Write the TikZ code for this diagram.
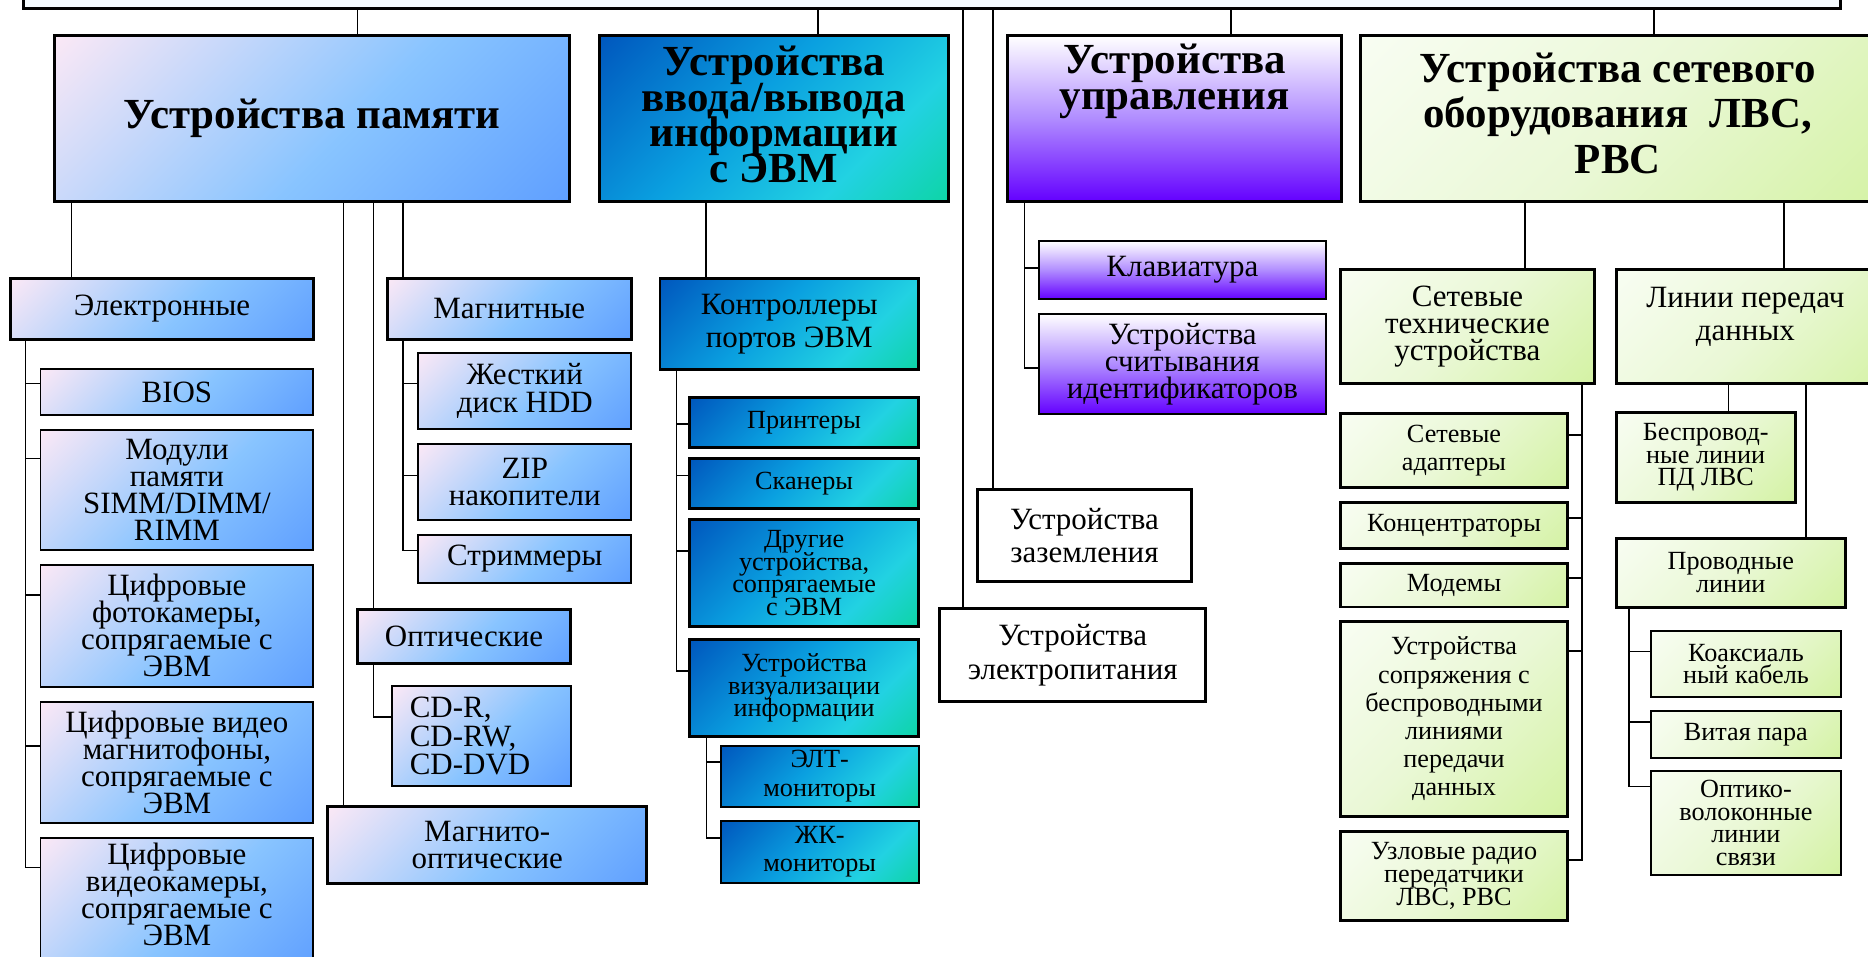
\documentclass[tikz,border=0pt]{standalone}
\usepackage{fontspec}
\setmainfont{Liberation Serif}
\setlength{\lineskiplimit}{-100pt}

\definecolor{rootfill}{HTML}{F4FAFD}
\definecolor{memA}{HTML}{FAE8F6}
\definecolor{memB}{HTML}{88C4FF}
\definecolor{memC}{HTML}{60A0FF}
\definecolor{ioA}{HTML}{0058BE}
\definecolor{ioB}{HTML}{0AA0E0}
\definecolor{ioC}{HTML}{22D2E2}
\definecolor{ioD}{HTML}{0ED4A8}
\definecolor{ctlA}{HTML}{FFFFFF}
\definecolor{ctlB}{HTML}{B08CFF}
\definecolor{ctlC}{HTML}{6400FF}
\definecolor{netA}{HTML}{F8FDF2}
\definecolor{netB}{HTML}{EAF8D6}
\definecolor{netC}{HTML}{D4F2A4}

\pgfdeclarehorizontalshading{memshade}{100bp}{color(0bp)=(memA); color(15bp)=(memA); color(55bp)=(memB); color(85bp)=(memC); color(100bp)=(memC)}
\pgfdeclarehorizontalshading{ioshade}{100bp}{color(0bp)=(ioA); color(15bp)=(ioA); color(45bp)=(ioB); color(68bp)=(ioC); color(85bp)=(ioD); color(100bp)=(ioD)}
\pgfdeclarehorizontalshading{netshade}{100bp}{color(0bp)=(netA); color(15bp)=(netA); color(50bp)=(netB); color(85bp)=(netC); color(100bp)=(netC)}

\newcommand{\ttl}{\fontsize{21.6pt}{18pt}\selectfont\bfseries}
\newcommand{\ttlnet}{\fontsize{21.6pt}{22.8pt}\selectfont\bfseries}

% box: style, name, x1, y1, x2, y2, text
\newcommand{\cell}[7]{\node[#1, minimum width={(#5-#3)*0.6pt}, minimum height={(#6-#4)*0.6pt}] (#2) at ({(#3+#5)/2},{(#4+#6)/2}) {#7};}

\tikzset{
  blk/.style={rectangle, draw=black, inner sep=0pt, align=center},
  heavy/.style={blk, line width=1.5pt},
  lite/.style={blk, line width=1pt},
  memshd/.style={shading=memshade, shading angle=-45},
  ioshd/.style={shading=ioshade, shading angle=-45},
  ctlshd/.style={top color=ctlA, bottom color=ctlC, middle color=ctlB},
  netshd/.style={shading=netshade, shading angle=-45},
  memhead/.style={heavy, memshd, font=\ttl},
  memsub/.style={heavy, memshd},
  memleaf/.style={lite, memshd},
  iohead/.style={heavy, ioshd},
  iosub/.style={heavy, ioshd},
  ioleaf/.style={lite, ioshd},
  ctlhead/.style={heavy, ctlshd},
  ctlleaf/.style={lite, ctlshd},
  nethead/.style={heavy, netshd},
  netsub/.style={heavy, netshd},
  netleaf/.style={lite, netshd},
  plainbox/.style={heavy, fill=white},
  rootbox/.style={heavy, fill=rootfill},
  headtxt/.style={font=\ttl, align=center},
  f26/.style={font=\fontsize{15.6pt}{13.6pt}\selectfont},
  f26w/.style={font=\fontsize{15.6pt}{14.4pt}\selectfont},
  f26x/.style={font=\fontsize{15.6pt}{17pt}\selectfont},
  f22/.style={font=\fontsize{13.2pt}{11.4pt}\selectfont},
  f22w/.style={font=\fontsize{13.2pt}{14.2pt}\selectfont},
  wire/.style={line width=0.8pt},
  wire2/.style={line width=1.1pt},
}

\begin{document}
\begin{tikzpicture}[x=0.6pt,y=-0.6pt]
\useasboundingbox (0,0) rectangle (1568,802.6);

% top row
\cell{rootbox}{root}{20}{-60}{1545}{7.5}{}
\cell{memhead}{mem}{46}{30}{478}{169}{Устройства памяти}
\cell{iohead}{io}{503}{30}{796}{169}{}
\node[headtxt] (iotxt) at (649.5,96) {Устройства\\ввода/вывода\\информации\\с ЭВМ};
\cell{ctlhead}{ctl}{846}{30}{1126}{169}{}
\node[headtxt] (ctltxt) at (986,68) {Устройства\\управления};
\cell{nethead}{net}{1142}{30}{1595}{169}{}
\node[headtxt, font=\ttlnet] (nettxt) at (1358,95) {Устройства сетевого\\оборудования~~ЛВС,\\РВС};

% memory
\cell{memsub,f26}{ele}{9}{233.5}{263}{285}{Электронные}
\cell{memleaf,f26}{bios}{34}{310}{263}{348}{BIOS}
\cell{memleaf,f26}{mods}{34}{361}{263}{462}{Модули\\памяти\\SIMM/DIMM/\\RIMM}
\cell{memleaf,f26}{photo}{34}{474}{263}{576.5}{Цифровые\\фотокамеры,\\сопрягаемые с\\ЭВМ}
\cell{memleaf,f26}{vrec}{34}{589}{263}{691}{Цифровые видео\\магнитофоны,\\сопрягаемые с\\ЭВМ}
\cell{memleaf}{vcam}{34}{703}{263}{812}{}
\node[f26, align=center] (vcamtxt) at (148.5,751) {Цифровые\\видеокамеры,\\сопрягаемые с\\ЭВМ};
\cell{memsub,f26}{magn}{325}{233.5}{530}{285}{Магнитные}
\cell{memleaf,f26w}{hdd}{351}{296.5}{530}{360}{Жесткий\\диск HDD}
\cell{memleaf,f26}{zip}{351}{373}{530}{436.5}{ZIP\\накопители}
\cell{memleaf,f26}{strm}{351}{449}{530}{489}{Стриммеры}
\cell{memsub,f26}{opt}{300}{512}{479}{557}{Оптические}
\cell{memleaf,f26w,align=left,text width=72pt}{cd}{329}{576}{479}{660}{CD-R,\\CD-RW,\\CD-DVD}
\cell{memsub,f26}{mo}{275}{677}{543}{742}{Магнито-\\оптические}

% input/output
\cell{iosub,f26x}{ctrl}{554}{234}{771}{310}{Контроллеры\\портов ЭВМ}
\cell{iosub,f22}{prn}{579}{334}{771}{376}{Принтеры}
\cell{iosub,f22}{scn}{579}{385}{771}{427}{Сканеры}
\cell{iosub,f22}{oth}{579}{436}{771}{526}{Другие\\устройства,\\сопрягаемые\\с ЭВМ}
\cell{iosub,f22}{vis}{579}{537}{771}{618}{Устройства\\визуализации\\информации}
\cell{ioleaf,f22w}{crt}{605}{626}{771}{677}{ЭЛТ-\\мониторы}
\cell{ioleaf,f22w}{lcd}{605}{689}{771}{741}{ЖК-\\мониторы}

% control
\cell{ctlleaf,f26}{keys}{872}{202.5}{1113}{251}{Клавиатура}
\cell{ctlleaf,f26}{rdr}{872}{263.6}{1113}{347.5}{Устройства\\считывания\\идентификаторов}
\cell{plainbox,f26x}{gnd}{820.5}{410.5}{1000}{488.5}{Устройства\\заземления}
\cell{plainbox,f26x}{pwr}{789}{511}{1012}{589}{Устройства\\электропитания}

% network
\cell{netsub,f26}{tech}{1125.5}{226.6}{1338}{322}{Сетевые\\технические\\устройства}
\cell{netsub}{lnk}{1357}{226.6}{1595}{322}{}
\node[f26x, align=center] (lnktxt) at (1465,266) {Линии передач\\данных};
\cell{netsub,f22w}{adp}{1125}{346.7}{1316}{409.6}{Сетевые\\адаптеры}
\cell{netsub,f22}{hub}{1125}{422}{1316}{460}{Концентраторы}
\cell{netsub,f22}{mdm}{1125}{472.6}{1316}{509.5}{Модемы}
\cell{netsub,f22w}{wif}{1125}{522}{1316}{685}{Устройства\\сопряжения с\\беспроводными\\линиями\\передачи\\данных}
\cell{netsub,f22}{rad}{1125}{697.6}{1316}{773}{Узловые радио\\передатчики\\ЛВС, РВС}
\cell{netsub,f22}{wls}{1356.5}{346}{1507}{422}{Беспровод-\\ные линии\\ПД ЛВС}
\cell{netsub,f22}{wrd}{1356.5}{451.6}{1549}{510}{Проводные\\линии}
\cell{netleaf,f22}{coax}{1386}{530}{1545}{585}{Коаксиаль\\ный кабель}
\cell{netleaf,f22}{twp}{1386}{597}{1545}{636}{Витая пара}
\cell{netleaf,f22}{fib}{1386}{647}{1545}{734.5}{Оптико-\\волоконные\\линии\\связи}

% connectors from the top box
\draw[wire] (root.south -| 300,0) -- (mem.north -| 300,0);
\draw[wire] (root.south -| 686.5,0) -- (io.north -| 686.5,0);
\draw[wire] (root.south -| 1033.5,0) -- (ctl.north -| 1033.5,0);
\draw[wire] (root.south -| 1388.5,0) -- (net.north -| 1388.5,0);
\draw[wire2] (root.south -| 808,0) -- (pwr.north -| 808,0);
\draw[wire2] (root.south -| 833.5,0) -- (gnd.north -| 833.5,0);

% memory branches
\draw[wire] (mem.south -| 60,0) -- (ele.north -| 60,0);
\draw[wire] (mem.south -| 288.5,0) -- (mo.north -| 288.5,0);
\draw[wire] (mem.south -| 313.5,0) -- (opt.north -| 313.5,0);
\draw[wire] (mem.south -| 338.5,0) -- (magn.north -| 338.5,0);
\foreach \n/\y in {bios/322, mods/385, photo/499.5, vrec/626, vcam/728}
  \draw[wire] (ele.south -| 21.5,0) |- (\n.west |- 0,\y);
\foreach \n/\y in {hdd/322, zip/399, strm/462}
  \draw[wire] (magn.south -| 338.5,0) |- (\n.west |- 0,\y);
\draw[wire] (opt.south -| 313.5,0) |- (cd.west |- 0,602);

% input/output branches
\draw[wire] (io.south -| 592.5,0) -- (ctrl.north -| 592.5,0);
\foreach \n/\y in {prn/356, scn/399, oth/462.5, vis/563}
  \draw[wire] (ctrl.south -| 567.7,0) |- (\n.west |- 0,\y);
\foreach \n/\y in {crt/639.5, lcd/703.5}
  \draw[wire] (vis.south -| 593,0) |- (\n.west |- 0,\y);

% control branches
\foreach \n/\y in {keys/225, rdr/309}
  \draw[wire] (ctl.south -| 860,0) |- (\n.west |- 0,\y);

% network branches
\draw[wire] (net.south -| 1280,0) -- (tech.north -| 1280,0);
\draw[wire] (net.south -| 1497.5,0) -- (lnk.north -| 1497.5,0);
\foreach \n/\y in {adp/365, hub/435, mdm/485, wif/546.5, rad/722}
  \draw[wire] (tech.south -| 1328,0) |- (\n.east |- 0,\y);
\draw[wire] (lnk.south -| 1451,0) -- (wls.north -| 1451,0);
\draw[wire] (lnk.south -| 1516,0) -- (wrd.north -| 1516,0);
\foreach \n/\y in {coax/547, twp/606, fib/660}
  \draw[wire] (wrd.south -| 1367.5,0) |- (\n.west |- 0,\y);
\end{tikzpicture}
\end{document}
